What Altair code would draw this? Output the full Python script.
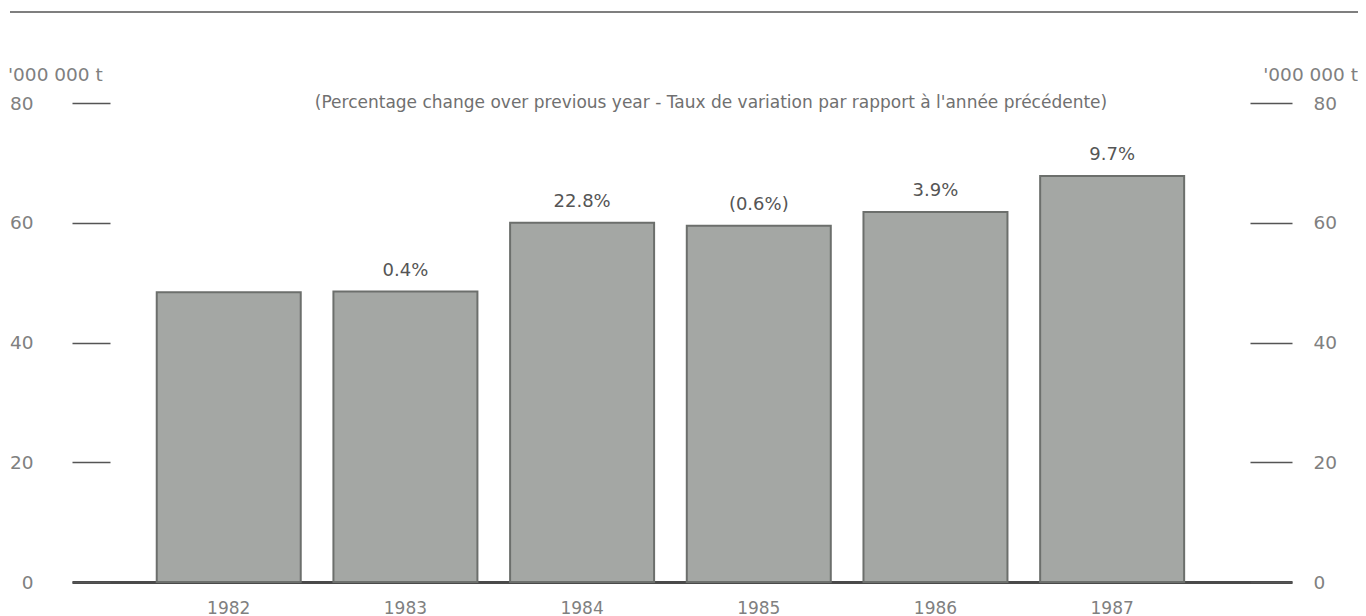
import altair as alt
import pandas as pd

years = ["1982", "1983", "1984", "1985", "1986", "1987"]
values = [48.4, 48.5, 60.0, 59.5, 61.8, 67.8]
pct_labels = ["", "0.4%", "22.8%", "(0.6%)", "3.9%", "9.7%"]
y_ticks = [0, 20, 40, 60, 80]
unit_label = "'000 000 t"
subtitle = "(Percentage change over previous year - Taux de variation par rapport à l'année précédente)"

df = pd.DataFrame({"year": years, "value": values, "pct": pct_labels})

FONT = "DejaVu Sans"
TXT = "#808080"
W, H = 1220, 479

xscale = alt.Scale(paddingInner=0.185, paddingOuter=0.545, align=0.44)
yscale = alt.Scale(domain=[0, 80], nice=False, zero=True)

x_axis = alt.Axis(title=None, domain=True, domainColor="#4a4a4a", domainWidth=3,
                  ticks=False, labelFontSize=17, labelColor=TXT, labelFont=FONT,
                  labelPadding=18, labelAngle=0)
y_left = alt.Axis(title=None, orient="left", values=y_ticks, grid=False, domain=False,
                  offset=-38, tickSize=38, tickColor="#555555", tickWidth=1.5,
                  labelPadding=39, labelFontSize=18.5, labelColor=TXT, labelFont=FONT)
y_right = alt.Axis(title=None, orient="right", values=y_ticks, grid=False, domain=False,
                   offset=-42, tickSize=42, tickColor="#555555", tickWidth=1.5,
                   labelPadding=21, labelFontSize=18.5, labelColor=TXT, labelFont=FONT)

base = alt.Chart(df)
X = alt.X("year:N", scale=xscale, sort=years, axis=x_axis)

bars = base.mark_bar(fill="#a4a7a4", stroke="#6c6f6c", strokeWidth=2).encode(
    x=X,
    y=alt.Y("value:Q", scale=yscale, axis=y_left),
)

labels = base.mark_text(dy=-21, fontSize=18, color="#555555", font=FONT, baseline="middle").encode(
    x=X,
    y=alt.Y("value:Q", scale=yscale, axis=y_left),
    text="pct:N",
)

bars_right = base.mark_bar(opacity=0).encode(
    x=X,
    y=alt.Y("value:Q", scale=yscale, axis=y_right),
)

ann = pd.DataFrame({"t": [unit_label]})
left_unit = alt.Chart(ann).mark_text(align="left", baseline="middle", fontSize=18.5,
                                     color=TXT, font=FONT).encode(
    x=alt.value(-64), y=alt.value(-28), text="t:N")
right_unit = alt.Chart(ann).mark_text(align="right", baseline="middle", fontSize=18.5,
                                      color=TXT, font=FONT).encode(
    x=alt.value(1286), y=alt.value(-28), text="t:N")
sub = alt.Chart(pd.DataFrame({"t": [subtitle]})).mark_text(
    align="center", baseline="middle", fontSize=17, color="#707070", font=FONT).encode(
    x=alt.value(639), y=alt.value(0), text="t:N")
top_rule = alt.Chart(ann).mark_rule(color="#555555", strokeWidth=1.5).encode(
    x=alt.value(-62), x2=alt.value(1286), y=alt.value(-91))

left_layer = alt.layer(bars, labels)
chart = alt.layer(left_layer, bars_right, left_unit, right_unit, sub, top_rule).resolve_axis(
    y="independent"
).properties(
    width=W, height=H,
    autosize=alt.AutoSizeParams(type="none"),
    padding={"left": 64, "top": 95, "right": 66, "bottom": 34},
    background="white",
).configure_view(stroke=None)

chart.save("out.html", embed_options={"renderer": "svg", "actions": False})
